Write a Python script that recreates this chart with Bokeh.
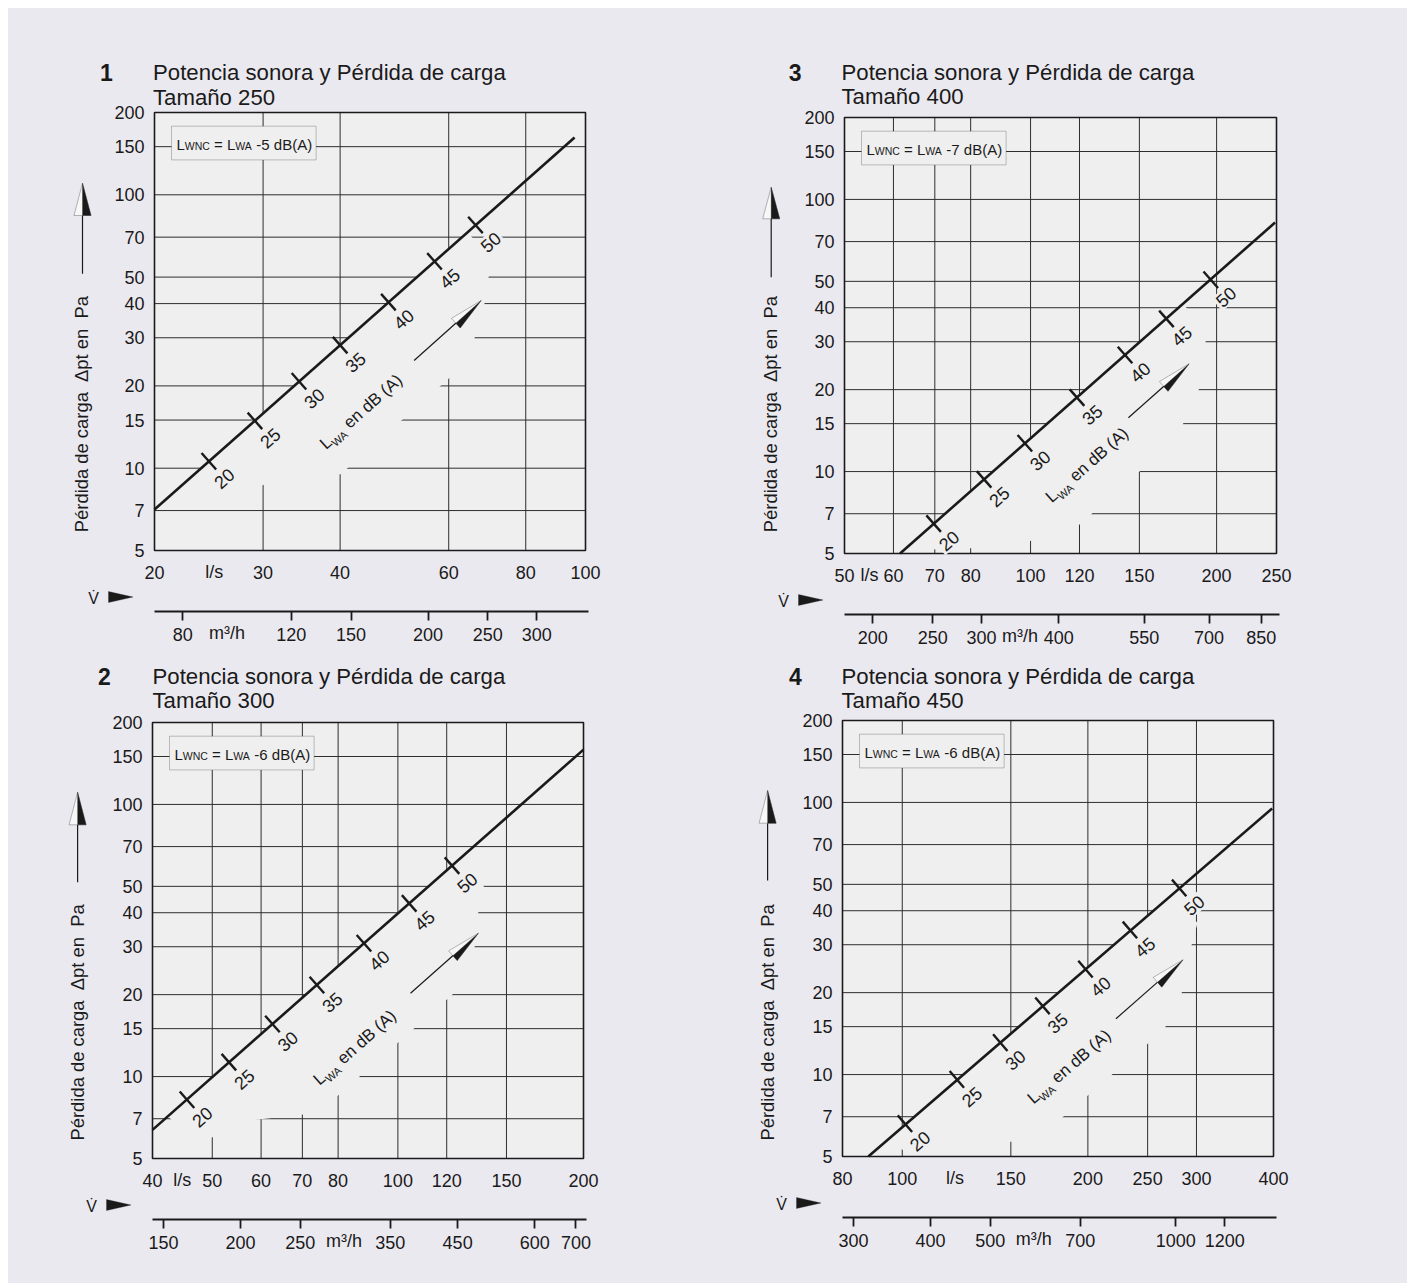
import math
from bokeh.plotting import figure
from bokeh.models import (Range1d, LogScale, LogAxis, FixedTicker, Label,
                          PolyAnnotation, Arrow, ColumnDataSource)
from bokeh.layouts import column, row
from bokeh.embed import file_html
from bokeh.resources import INLINE
from bokeh.core.properties import value

# ------------------------------------------------------------------ data
PA_TICKS = [5, 7, 10, 15, 20, 30, 40, 50, 70, 100, 150, 200]
PA_GRID = [7, 10, 15, 20, 30, 40, 50, 70, 100, 150]
DB_LEVELS = [20, 25, 30, 35, 40, 45, 50]
M3H_PER_LS = 3.6
TITLE = "Potencia sonora y Pérdida de carga"
YLABEL = "Pérdida de carga\u00a0 Δpt en\u00a0 Pa"

# Panel 1 - Tamaño 250
P1_NUM, P1_SIZE, P1_CORR = "1", "Tamaño 250", "-5"
P1_LS_RANGE = [20, 100]
P1_LS_TICKS = [20, 30, 40, 60, 80, 100]
P1_LS_GRID = [30, 40, 60, 80]
P1_M3H_TICKS = [80, 120, 150, 200, 250, 300]
P1_LINE_LS = [20, 96]
P1_LINE_PA = [7.06, 162]
P1_DB_LS = [24.5, 29.1, 34.3, 40.0, 47.9, 56.9, 66.3]
P1_DB_PA = [10.6, 14.9, 20.8, 28.2, 40.5, 57.1, 77.6]

# Panel 3 - Tamaño 400
P3_NUM, P3_SIZE, P3_CORR = "3", "Tamaño 400", "-7"
P3_LS_RANGE = [50, 250]
P3_LS_TICKS = [50, 60, 70, 80, 100, 120, 150, 200, 250]
P3_LS_GRID = [60, 70, 80, 100, 120, 150, 200]
P3_M3H_TICKS = [200, 250, 300, 400, 550, 700, 850]
P3_LINE_LS = [61.5, 248.7]
P3_LINE_PA = [5, 82.3]
P3_DB_LS = [69.7, 84.1, 97.9, 118.9, 142.2, 165.9, 195.7]
P3_DB_PA = [6.44, 9.36, 12.7, 18.7, 26.8, 36.4, 50.7]

# Panel 2 - Tamaño 300
P2_NUM, P2_SIZE, P2_CORR = "2", "Tamaño 300", "-6"
P2_LS_RANGE = [40, 200]
P2_LS_TICKS = [40, 50, 60, 70, 80, 100, 120, 150, 200]
P2_LS_GRID = [50, 60, 70, 80, 100, 120, 150]
P2_M3H_TICKS = [150, 200, 250, 350, 450, 600, 700]
P2_LINE_LS = [40, 200]
P2_LINE_PA = [6.37, 159]
P2_DB_LS = [45.5, 53.2, 62.6, 73.9, 88.1, 104.3, 122.4]
P2_DB_PA = [8.22, 11.3, 15.6, 21.7, 30.9, 43.3, 59.6]

# Panel 4 - Tamaño 450
P4_NUM, P4_SIZE, P4_CORR = "4", "Tamaño 450", "-6"
P4_LS_RANGE = [80, 400]
P4_LS_TICKS = [80, 100, 150, 200, 250, 300, 400]
P4_LS_GRID = [100, 150, 200, 250, 300]
P4_M3H_TICKS = [300, 400, 500, 700, 1000, 1200]
P4_LINE_LS = [88.1, 398]
P4_LINE_PA = [5, 95]
P4_DB_LS = [101, 122.6, 144.2, 168.8, 198.2, 234, 281.2]
P4_DB_PA = [6.6, 9.6, 13.1, 17.9, 24.4, 34.0, 48.5]

# unit-label positions on the two flow axes
LS_LABEL_AT = {"1": 25.0, "3": 54.9, "2": 44.7, "4": 121.8}
M3H_LABEL_AT = {"1": 94.4, "3": 346.0, "2": 294.5, "4": 588.0}

# ------------------------------------------------------------------ style / layout
PAGE_BG = "#ebe9f0"
PLOT_BG = "#efefef"
INK = "#1a1a1a"
GRID = "#2e2e2e"
FONT = "Liberation Sans"
BASE_FIX = 0.38   # alphabetic-baseline correction, fraction of font size

# ox/oy: page position of the figure; bl/bt: grid box offset inside it
LAYOUT = {
    "1": dict(ox=8, oy=8, w=692, h=647, bl=146, bt=104, fw=431, fh=438,
              num_x=106, title_x=152.5, base1=80.7, base2=105.0,
              ylab_x=81.4, ylab_b=531.7, yar=(82, 182.7, 215.0, 273.3),
              lwa=(360.9, 411.7), ar_tail=(413.6, 360.0), ar_tip=(480.7, 300.0)),
    "3": dict(ox=700, oy=8, w=707, h=647, bl=144, bt=109, fw=432, fh=436,
              num_x=794.6, title_x=841.0, base1=80.7, base2=104.3,
              ylab_x=769.5, ylab_b=531.7, yar=(770.7, 186.7, 218.3, 276.7),
              lwa=(1086.8, 465.0), ar_tail=(1127.9, 417.3), ar_tip=(1188.6, 363.3)),
    "2": dict(ox=8, oy=655, w=692, h=628, bl=144, bt=67, fw=431, fh=436,
              num_x=104, title_x=152, base1=684.4, base2=708.4,
              ylab_x=77.0, ylab_b=1140.0, yar=(77.1, 791.7, 824.3, 881.7),
              lwa=(354.6, 1047.5), ar_tail=(410.0, 992.7), ar_tip=(477.9, 932.7)),
    "4": dict(ox=700, oy=655, w=707, h=628, bl=142, bt=65, fw=431, fh=436,
              num_x=795, title_x=841, base1=684.4, base2=708.4,
              ylab_x=767.1, ylab_b=1140.0, yar=(767.1, 790.0, 822.7, 880.0),
              lwa=(1068.9, 1066.7), ar_tail=(1115.4, 1018.3), ar_tip=(1182.5, 959.3)),
}


def fmt(v):
    return f"{v:g}"


def lab(p, text, x, y, size, **kw):
    opts = dict(x=x, y=y, text=text, x_units="screen", y_units="screen",
                text_font=FONT, text_font_size=f"{size}px", text_color=INK)
    opts.update(kw)
    p.add_layout(Label(**opts))


def blab(p, text, x, y, size, ang=0.0, **kw):
    """label whose (x, y) is the alphabetic baseline start point"""
    x += -math.sin(ang) * BASE_FIX * size
    y += math.cos(ang) * BASE_FIX * size
    lab(p, text, x, y, size, angle=ang, text_baseline="alphabetic", **kw)


def poly(p, pts, fill, line=INK, lw=1.0):
    p.add_layout(PolyAnnotation(xs=[q[0] for q in pts], ys=[q[1] for q in pts],
                                xs_units="screen", ys_units="screen",
                                fill_color=fill, fill_alpha=1.0 if fill else 0.0,
                                line_color=line, line_width=lw))


def head(p, tip, ang, length, hw, open_fill):
    ux, uy = math.cos(ang), math.sin(ang)
    lx, ly = -uy, ux
    bc = (tip[0] - length * ux, tip[1] - length * uy)
    bl = (bc[0] + hw * lx, bc[1] + hw * ly)
    br = (bc[0] - hw * lx, bc[1] - hw * ly)
    poly(p, [tip, bl, br], open_fill, INK, 1.0)
    poly(p, [tip, bc, br], INK, INK, 1.0)


def style_axis(ax, standoff):
    ax.major_label_text_font = FONT
    ax.major_label_text_font_size = "18px"
    ax.major_label_text_color = INK
    ax.major_label_standoff = standoff
    ax.major_tick_in = 0
    ax.minor_tick_out = 0
    ax.minor_tick_in = 0
    ax.minor_tick_line_color = None


def build(key, num, size_txt, corr, ls_range, ls_ticks, ls_grid, m3h_ticks,
          line_ls, line_pa, db_ls, db_pa):
    L = LAYOUT[key]
    x0, x1 = ls_range
    y0, y1 = PA_TICKS[0], PA_TICKS[-1]
    W, H = L["w"], L["h"]
    fw, fh = L["fw"], L["fh"]
    kx = fw / math.log(x1 / x0)
    ky = fh / math.log(y1 / y0)
    box_l = L["bl"]                 # screen x of grid box left
    box_b = H - L["bt"] - fh        # screen y of grid box bottom (y up)
    X0 = x0 * math.exp(-box_l / kx)
    X1 = x1 * math.exp((W - box_l - fw) / kx)
    Y0 = y0 * math.exp(-box_b / ky)
    Y1 = y1 * math.exp((H - box_b - fh) / ky)

    def scr(X, Y):                  # page pixel -> screen units of this figure
        return (X - L["ox"], L["oy"] + H - Y)

    def to_scr(v, pa):              # data -> screen units
        return (kx * math.log(v / X0), ky * math.log(pa / Y0))

    def to_data(sx, sy):
        return (X0 * math.exp(sx / kx), Y0 * math.exp(sy / ky))

    p = figure(x_axis_type="log", y_axis_type="log",
               x_range=Range1d(X0, X1), y_range=Range1d(Y0, Y1),
               frame_width=W, frame_height=H,
               min_border=0, x_axis_location=None, y_axis_location=None,
               output_backend="svg", toolbar_location=None,
               background_fill_color=PAGE_BG, border_fill_color=PAGE_BG,
               outline_line_color=None)
    p.grid.visible = False

    # Pa axis at the left edge of the grid box
    ya = LogAxis(fixed_location=x0, ticker=FixedTicker(ticks=PA_TICKS),
                 major_label_overrides={t: fmt(t) for t in PA_TICKS})
    style_axis(ya, 10)
    ya.major_tick_out = 0
    ya.major_tick_line_color = None
    ya.axis_line_color = None
    p.add_layout(ya, "left")

    # l/s axis at the bottom of the grid box
    xa = LogAxis(fixed_location=y0, ticker=FixedTicker(ticks=ls_ticks),
                 major_label_overrides={t: fmt(t) for t in ls_ticks})
    style_axis(xa, 15)
    xa.major_tick_out = 0
    xa.major_tick_line_color = None
    xa.axis_line_color = None
    p.add_layout(xa, "below")

    # m3/h axis, 60 px lower
    p.extra_x_ranges = {"m3h": Range1d(X0 * M3H_PER_LS, X1 * M3H_PER_LS)}
    p.extra_x_scales = {"m3h": LogScale()}
    ax2 = LogAxis(x_range_name="m3h", fixed_location=y0 * math.exp(-60.5 / ky),
                  bounds=(x0 * M3H_PER_LS, x1 * M3H_PER_LS * math.exp(3 / kx)),
                  ticker=FixedTicker(ticks=m3h_ticks),
                  major_label_overrides={t: fmt(t) for t in m3h_ticks})
    style_axis(ax2, 8)
    ax2.axis_line_color = INK
    ax2.axis_line_width = 1.8
    ax2.major_tick_line_color = INK
    ax2.major_tick_line_width = 1.8
    ax2.major_tick_out = 9
    p.add_layout(ax2, "below")

    # grid box background and grid lines
    p.quad(left=[x0], right=[x1], bottom=[y0], top=[y1], fill_color=PLOT_BG,
           line_color=None)
    p.segment(x0=ls_grid, y0=[y0] * len(ls_grid), x1=ls_grid, y1=[y1] * len(ls_grid),
              line_color=GRID, line_width=1)
    p.segment(x0=[x0] * len(PA_GRID), y0=PA_GRID, x1=[x1] * len(PA_GRID), y1=PA_GRID,
              line_color=GRID, line_width=1)

    # characteristic-line geometry (screen units)
    sx0, sy0 = to_scr(line_ls[0], line_pa[0])
    sx1, sy1 = to_scr(line_ls[1], line_pa[1])
    ang = math.atan2(sy1 - sy0, sx1 - sx0)
    ux, uy = math.cos(ang), math.sin(ang)
    nx, ny = math.sin(ang), -math.cos(ang)

    # knock-out swath behind the dB labels / LWA arrow
    t20 = to_scr(db_ls[0], db_pa[0])
    s20 = (t20[0] - sx0) * ux + (t20[1] - sy0) * uy
    tip = scr(*L["ar_tip"])
    stip = (tip[0] - sx0) * ux + (tip[1] - sy0) * uy
    shape = [(s20 - 25, 0), (s20 - 25, 40), (s20 + 30, 55), (s20 + 90, 97),
             (stip - 60, 97), (stip - 10, 75), (stip + 10, 55), (stip + 35, 38),
             (stip + 35, 0)]
    sw_x, sw_y = [], []
    for s, t in shape:
        px = min(max(sx0 + s * ux + t * nx, box_l + 1), box_l + fw - 1)
        py = min(max(sy0 + s * uy + t * ny, box_b + 1), box_b + fh - 1)
        dx, dy = to_data(px, py)
        sw_x.append(dx)
        sw_y.append(dy)
    p.patch(x=sw_x, y=sw_y, fill_color=PLOT_BG, line_color=None)

    # grid box outline
    p.quad(left=[x0], right=[x1], bottom=[y0], top=[y1], fill_color=None,
           line_color=INK, line_width=1.6)

    # dB labels along the line
    d = 23.0
    lab_x = [v * math.exp(d * nx / kx) for v in db_ls]
    lab_y = [q * math.exp(d * ny / ky) for q in db_pa]
    p.text(x="x", y="y", text="t",
           source=ColumnDataSource(dict(x=lab_x, y=lab_y, t=[str(l) for l in DB_LEVELS])),
           angle=ang, text_align="center", text_baseline="middle",
           text_font=value(FONT), text_font_size="18px", text_color=INK,
           background_fill_color=PLOT_BG, padding=2)

    # characteristic line
    p.line(x=line_ls, y=line_pa, line_color=INK, line_width=2.6)

    # tick marks across the line at each dB level
    h = 11.0
    p.segment(x0=[v * math.exp(-h * nx / kx) for v in db_ls],
              y0=[q * math.exp(-h * ny / ky) for q in db_pa],
              x1=[v * math.exp(h * nx / kx) for v in db_ls],
              y1=[q * math.exp(h * ny / ky) for q in db_pa],
              line_color=INK, line_width=2.4)

    # LWA en dB (A) arrow
    tail = scr(*L["ar_tail"])
    aang = math.atan2(tip[1] - tail[1], tip[0] - tail[0])
    p.add_layout(Arrow(end=None, x_start=tail[0], y_start=tail[1],
                       x_end=tip[0] - 30 * math.cos(aang), y_end=tip[1] - 30 * math.sin(aang),
                       start_units="screen", end_units="screen",
                       line_color=INK, line_width=1.2))
    head(p, tip, aang, 34, 6.5, "#f7f7f7")

    # LWA text (L + subscript WA + rest); baseline 6 px below the text centre
    cx, cy = scr(*L["lwa"])
    widths = [0.556 * 17, 1.611 * 11 + 0.278 * 17, 4.224 * 17]
    Wt = sum(widths)
    bx = cx - Wt / 2 * ux + 6 * nx
    by = cy - Wt / 2 * uy + 6 * ny
    blab(p, "L", bx, by, 17, ang)
    o = widths[0]
    blab(p, "WA", bx + o * ux + 3.5 * nx, by + o * uy + 3.5 * ny, 11, ang)
    o += widths[1]
    blab(p, "en dB (A)", bx + o * ux, by + o * uy, 17, ang)

    # legend box  L_WNC = L_WA -x dB(A)
    BW, BH = 144.6, 33.7
    bx0 = box_l + 17.0
    btop = box_b + fh - 13.7
    poly(p, [(bx0, btop), (bx0 + BW, btop), (bx0 + BW, btop - BH), (bx0, btop - BH)],
         PLOT_BG, "#3a3a3a", 1.0)
    base = btop - 23.6
    sp = 0.278 * 15
    pieces = [("L", 15, 0.556 * 15), ("WNC", 10.5, 2.388 * 10.5 + sp),
              ("= L", 15, 1.418 * 15), ("WA", 10.5, 1.611 * 10.5 + sp),
              (corr + " dB(A)", 15, 0)]
    xx = bx0 + 4.9
    for txt, fs, wdt in pieces:
        blab(p, txt, xx, base, fs)
        xx += wdt

    # unit labels on the flow axes
    p.add_layout(Label(x=LS_LABEL_AT[key], y=box_b - 11, x_units="data", y_units="screen",
                       text="l/s", text_font=FONT, text_font_size="18px",
                       text_color=INK, text_align="center", text_baseline="top"))
    p.add_layout(Label(x=M3H_LABEL_AT[key] / M3H_PER_LS, y=box_b - 72.5, x_units="data",
                       y_units="screen", text="m³/h", text_font=FONT,
                       text_font_size="18px", text_color=INK, text_align="center",
                       text_baseline="top"))

    # V-dot with pointer
    lab(p, "V̇", box_l - 61, box_b - 47.5, 16, text_align="center",
        text_baseline="middle")
    poly(p, [(box_l - 46, box_b - 41), (box_l - 46, box_b - 52),
             (box_l - 21.5, box_b - 46.5)], INK, INK, 1.0)

    # titles
    nxp, nyp = scr(L["num_x"], L["base1"])
    blab(p, num, nxp, nyp, 23, text_align="center", text_font_style="bold")
    tx, ty1 = scr(L["title_x"], L["base1"])
    _, ty2 = scr(L["title_x"], L["base2"])
    blab(p, TITLE, tx, ty1, 22.2)
    blab(p, size_txt, tx, ty2, 22.2)

    # vertical axis title with arrow
    yx, yy = scr(L["ylab_x"], L["ylab_b"])
    lab(p, YLABEL, yx, yy, 18.4, angle=math.pi / 2, text_align="left",
        text_baseline="middle")
    ax_, tip_y, base_y, tail_y = L["yar"]
    t_tip = scr(ax_, tip_y)
    t_tail = scr(ax_, tail_y)
    p.add_layout(Arrow(end=None, x_start=t_tail[0], y_start=t_tail[1],
                       x_end=t_tail[0], y_end=scr(ax_, base_y)[1],
                       start_units="screen", end_units="screen",
                       line_color=INK, line_width=1.2))
    head(p, t_tip, math.pi / 2, base_y - tip_y, 8.5, "#f7f7f7")
    return p


p1 = build("1", P1_NUM, P1_SIZE, P1_CORR, P1_LS_RANGE, P1_LS_TICKS, P1_LS_GRID,
           P1_M3H_TICKS, P1_LINE_LS, P1_LINE_PA, P1_DB_LS, P1_DB_PA)
p3 = build("3", P3_NUM, P3_SIZE, P3_CORR, P3_LS_RANGE, P3_LS_TICKS, P3_LS_GRID,
           P3_M3H_TICKS, P3_LINE_LS, P3_LINE_PA, P3_DB_LS, P3_DB_PA)
p2 = build("2", P2_NUM, P2_SIZE, P2_CORR, P2_LS_RANGE, P2_LS_TICKS, P2_LS_GRID,
           P2_M3H_TICKS, P2_LINE_LS, P2_LINE_PA, P2_DB_LS, P2_DB_PA)
p4 = build("4", P4_NUM, P4_SIZE, P4_CORR, P4_LS_RANGE, P4_LS_TICKS, P4_LS_GRID,
           P4_M3H_TICKS, P4_LINE_LS, P4_LINE_PA, P4_DB_LS, P4_DB_PA)

layout = column(row(p1, p3, spacing=0), row(p2, p4, spacing=0), spacing=0,
                margin=(8, 0, 0, 8), styles={"background-color": PAGE_BG})
open("out.html", "w").write(file_html(layout, INLINE))
